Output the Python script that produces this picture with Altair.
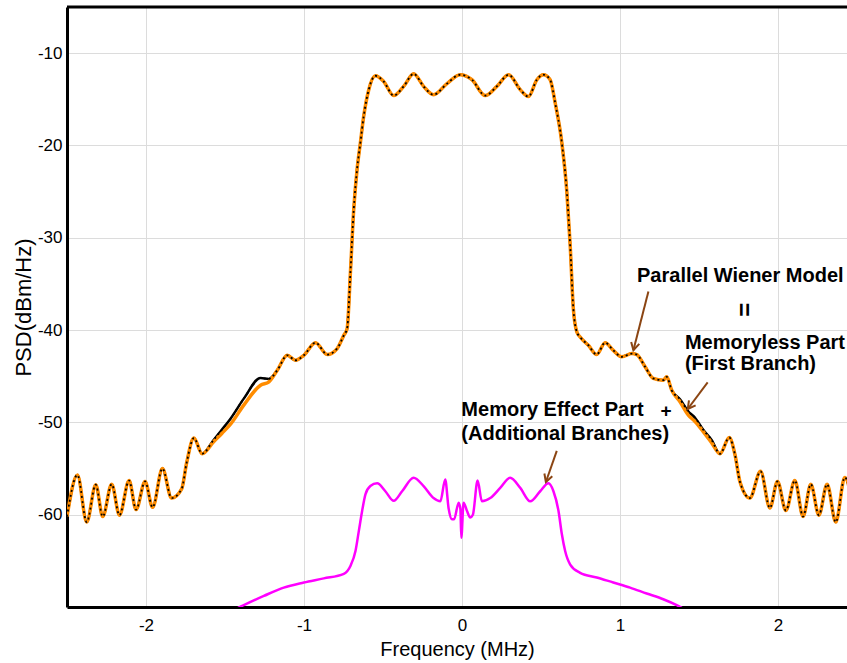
import altair as alt
import pandas as pd

FONT = "Liberation Sans"

# ---- data ----
freq = [-2.50, -2.434, -2.375, -2.318, -2.274, -2.217, -2.168, -2.107, -2.063, -2.006,
        -1.958, -1.896, -1.838, -1.774, -1.743, -1.697, -1.645, -1.572, -1.52, -1.465,
        -1.380, -1.275, -1.222, -1.169, -1.106, -1.054, -1.001, -0.927, -0.853, -0.790,
        -0.748, -0.727, -0.706, -0.685, -0.664, -0.643, -0.622, -0.590, -0.548, -0.496,
        -0.432, -0.369, -0.306, -0.243, -0.180, -0.095, -0.011, 0.063, 0.147, 0.221,
        0.295, 0.369, 0.421, 0.474, 0.516, 0.558, 0.590, 0.632, 0.664, 0.685,
        0.705, 0.727, 0.748, 0.800, 0.853, 0.906, 0.958, 1.011, 1.075, 1.106,
        1.159, 1.211, 1.274, 1.296, 1.327, 1.380, 1.432, 1.475, 1.527, 1.580,
        1.633, 1.692, 1.728, 1.759, 1.822, 1.890, 1.949, 1.997, 2.050, 2.107,
        2.159, 2.208, 2.259, 2.311, 2.366, 2.423, 2.48]

psd_model = [-60.2, -55.7, -60.8, -56.75, -60.2, -56.7, -60.05, -56.3, -59.45, -56.4,
             -59.2, -55.0, -58.2, -57.2, -54.4, -51.7, -53.4, -52.1, -51.2, -50.2,
             -48.1, -45.97, -45.6, -44.35, -42.73, -43.27, -42.73, -41.36, -42.65, -42.0,
             -40.57, -39.85, -33.73, -26.9, -22.6, -19.7, -16.84, -13.96, -12.45, -13.06,
             -14.6, -13.6, -12.23, -13.6, -14.5, -13.3, -12.34, -12.88, -14.6, -13.6,
             -12.34, -13.96, -14.7, -12.88, -12.34, -12.88, -15.4, -19.7, -25.1, -30.86,
             -37.7, -40.2, -40.75, -41.65, -42.65, -41.36, -42.2, -42.9, -42.55, -42.65,
             -43.98, -45.24, -45.43, -45.06, -46.5, -47.76, -49.2, -49.9, -51.0, -52.2,
             -53.4, -51.64, -53.5, -56.4, -58.2, -55.3, -59.27, -56.4, -59.55, -56.3,
             -60.2, -56.7, -60.05, -56.7, -60.8, -55.96, -60.0]

psd_meas = [-60.2, -55.7, -60.8, -56.75, -60.2, -56.7, -60.05, -56.3, -59.45, -56.4,
            -59.2, -55.0, -58.2, -57.2, -54.4, -51.7, -53.4, -51.9, -50.8, -49.6,
            -47.4, -45.2, -45.3, -44.35, -42.73, -43.27, -42.73, -41.36, -42.65, -42.0,
            -40.57, -39.85, -33.73, -26.9, -22.6, -19.7, -16.84, -13.96, -12.45, -13.06,
            -14.6, -13.6, -12.23, -13.6, -14.5, -13.3, -12.34, -12.88, -14.6, -13.6,
            -12.34, -13.96, -14.7, -12.88, -12.34, -12.88, -15.4, -19.7, -25.1, -30.86,
            -37.7, -40.2, -40.75, -41.65, -42.65, -41.36, -42.2, -42.9, -42.55, -42.65,
            -43.98, -45.24, -45.43, -45.06, -46.5, -47.5, -48.8, -49.5, -50.8, -51.9,
            -53.4, -51.64, -53.5, -56.4, -58.2, -55.3, -59.27, -56.4, -59.55, -56.3,
            -60.2, -56.7, -60.05, -56.7, -60.8, -55.96, -60.0]

mem_freq = [-1.50, -1.381, -1.254, -1.128, -1.001, -0.875, -0.748, -0.706, -0.674, -0.653,
            -0.632, -0.611, -0.580, -0.537, -0.485, -0.432, -0.379, -0.306, -0.243, -0.180,
            -0.137, -0.106, -0.085, -0.063, -0.050, -0.021, -0.010, -0.004, 0.010, 0.032,
            0.052, 0.069, 0.099, 0.126, 0.179, 0.242, 0.305, 0.369, 0.432, 0.495,
            0.547, 0.579, 0.611, 0.632, 0.653, 0.685, 0.748, 0.853, 0.958, 1.064,
            1.169, 1.274, 1.359, 1.46]
mem_psd = [-70.8, -69.8, -68.8, -67.9, -67.35, -66.9, -66.4, -65.55, -63.94, -61.78,
           -59.6, -57.8, -56.9, -56.6, -57.46, -58.5, -57.46, -56.0, -56.9, -58.2,
           -58.55, -56.2, -59.27, -60.5, -60.5, -58.7, -59.4, -62.5, -58.7, -59.6,
           -60.3, -60.0, -56.3, -58.55, -58.2, -57.1, -56.0, -57.1, -58.55, -57.46,
           -56.6, -57.46, -59.6, -62.1, -63.94, -65.4, -66.3, -66.8, -67.35, -67.9,
           -68.54, -69.16, -69.8, -70.8]

# annotation texts (data coordinates)
note_f = [1.108, 1.411, 1.411, -0.004, -0.004]
note_v = [-34.81, -42.08, -44.35, -49.34, -51.93]
note_txt = ["Parallel Wiener Model", "Memoryless Part", "(First Branch)",
            "Memory Effect Part", "(Additional Branches)"]

sym_f = [1.776, 1.291]
sym_v = [-37.8, -48.8]
sym_txt = ["=", "+"]
sym_ang = [90, 0]
sym_size = [24, 19]

# arrows: start -> end (head)
arr_f = [1.180, 1.555, 0.600]
arr_v = [-35.83, -45.67, -53.08]
arr_f2 = [1.085, 1.429, 0.531]
arr_v2 = [-42.19, -48.55, -56.46]
arr_ang = [14, 37, 19]

y_top = [-5]

df_model = pd.DataFrame({"f": freq, "v": psd_model})
df_meas = pd.DataFrame({"f": freq, "v": psd_meas})
df_mem = pd.DataFrame({"f": mem_freq, "v": mem_psd})
df_note = pd.DataFrame({"f": note_f, "v": note_v, "t": note_txt})
df_sym = pd.DataFrame({"f": sym_f, "v": sym_v, "t": sym_txt, "a": sym_ang, "s": sym_size})
df_arr = pd.DataFrame({"f": arr_f, "v": arr_v, "f2": arr_f2, "v2": arr_v2, "a": arr_ang})
df_head = pd.DataFrame({"f": arr_f2, "v": arr_v2, "a": arr_ang})
df_top = pd.DataFrame({"v": y_top})

xs = alt.Scale(domain=[-2.5, 2.437], nice=False, zero=False)
ys = alt.Scale(domain=[-70, -5], nice=False, zero=False)

X_axis = alt.Axis(values=[-2, -1, 0, 1, 2], title="Frequency (MHz)", orient="bottom",
                  grid=True, gridColor="#DCDCDC", gridWidth=1, ticks=False, tickSize=0,
                  domain=True, domainColor="black", domainWidth=3,
                  labelPadding=10, titlePadding=6, labelFlush=False,
                  labelExpr="'' + datum.value")
Y_axis = alt.Axis(values=[-60, -50, -40, -30, -20, -10], title="PSD(dBm/Hz)", orient="left",
                  grid=True, gridColor="#DCDCDC", gridWidth=1, ticks=False, tickSize=0,
                  domain=True, domainColor="black", domainWidth=3,
                  labelPadding=5, titlePadding=2, labelFlush=False, titleFontSize=22,
                  labelExpr="'' + datum.value")

X = alt.X("f:Q", scale=xs, axis=X_axis)
Y = alt.Y("v:Q", scale=ys, axis=Y_axis)

mem_line = alt.Chart(df_mem).mark_line(color="#FF00FF", strokeWidth=2.5, clip=True,
                                       interpolate="monotone").encode(x=X, y=Y)
meas_solid = alt.Chart(df_meas).mark_line(color="black", strokeWidth=2.5, clip=True,
                                          interpolate="monotone").encode(x=X, y=Y)
model_line = alt.Chart(df_model).mark_line(color="#FF8C00", strokeWidth=3.5, clip=True,
                                           interpolate="monotone").encode(x=X, y=Y)
meas_dash = alt.Chart(df_meas).mark_line(color="black", strokeWidth=1.8, clip=True,
                                         strokeDash=[2, 3],
                                         interpolate="monotone").encode(x=X, y=Y)

top_border = alt.Chart(df_top).mark_rule(color="black", strokeWidth=3).encode(y=Y)

shafts = alt.Chart(df_arr).mark_rule(color="#8B4513", strokeWidth=2).encode(
    x=X, y=Y, x2="f2:Q", y2="v2:Q")
heads = alt.Chart(df_head).mark_point(shape="M-0.55,-1L0,0L0.55,-1", filled=False,
                                      size=230, strokeWidth=2, color="#8B4513",
                                      opacity=1).encode(
    x=X, y=Y, angle=alt.Angle("a:Q", scale=None))

notes = alt.Chart(df_note).mark_text(font=FONT, fontSize=20, fontWeight="bold",
                                     align="left", baseline="alphabetic",
                                     color="black").encode(x=X, y=Y, text="t:N")
syms = alt.Chart(df_sym).mark_text(font=FONT, fontWeight="bold",
                                   align="center", baseline="middle",
                                   color="black").encode(
    x=X, y=Y, text="t:N", angle=alt.Angle("a:Q", scale=None),
    size=alt.Size("s:Q", scale=None))

chart = alt.layer(mem_line, meas_solid, model_line, meas_dash, top_border,
                  shafts, heads, notes, syms).properties(
    width=780, height=600,
    autosize=alt.AutoSizeParams(type="none"),
    padding={"left": 67, "top": 7, "right": 0, "bottom": 56},
    background="white",
).configure_view(stroke=None).configure_axis(
    labelFont=FONT, labelFontSize=17, labelColor="black",
    titleFont=FONT, titleFontSize=20, titleFontWeight="normal", titleColor="black",
)

chart.save("out.html", embed_options={"renderer": "svg", "actions": False})
